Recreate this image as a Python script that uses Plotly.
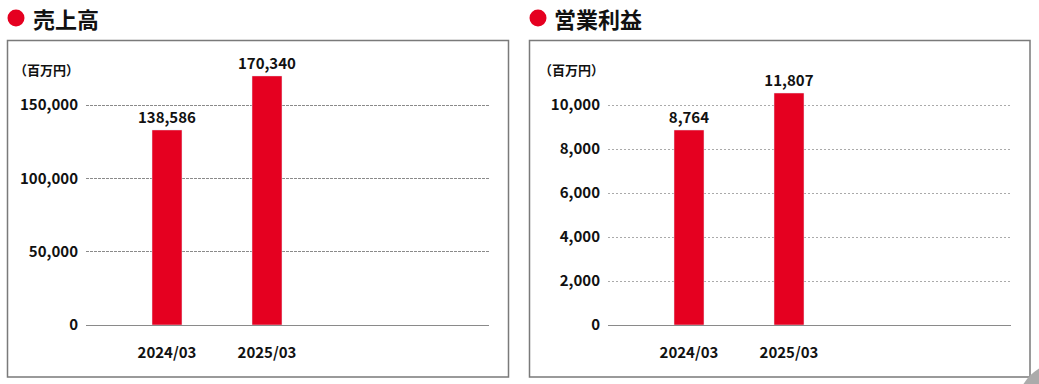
import plotly.graph_objects as go

# ---- data ----
categories = ["2024/03", "2025/03"]
sales_bar_values = [133000, 169850]          # bar heights as drawn
sales_labels = ["138,586", "170,340"]        # printed value labels
profit_bar_values = [8864, 10545]
profit_labels = ["8,764", "11,807"]
sales_ticks = [0, 50000, 100000, 150000]
profit_ticks = [0, 2000, 4000, 6000, 8000, 10000]

W, H = 1039, 384
RED = "#e50020"
FONT = "Noto Sans CJK JP"

def px(x):
    return x / W

def py(y):
    return 1 - y / H

fig = go.Figure()

for xa, ya, vals, labs in [("x", "y", sales_bar_values, sales_labels),
                           ("x2", "y2", profit_bar_values, profit_labels)]:
    fig.add_trace(go.Bar(
        x=[0, 1], y=vals, text=labs, textposition="outside",
        marker_color=RED, width=0.3, cliponaxis=False, constraintext="none",
        textfont=dict(family=FONT, size=15, color="#111", weight="bold"),
        xaxis=xa, yaxis=ya, hoverinfo="skip"))

tickfont = dict(family=FONT, size=15, color="#111", weight="bold")

def xaxis(dom, anchor):
    return dict(domain=dom, anchor=anchor, range=[-0.81, 3.22],
                tickvals=[0, 1], ticktext=categories, tickfont=tickfont,
                showgrid=False, zeroline=False, showline=True,
                linecolor="#8a8a8a", linewidth=1, ticks="",
                ticklabelstandoff=14, fixedrange=True, automargin=False)

def yaxis(dom, anchor, top, ticks, dash, gcolor):
    return dict(domain=dom, anchor=anchor, range=[0, top], tickvals=ticks,
                tickformat=",", tickfont=tickfont, showgrid=True,
                gridcolor=gcolor, griddash=dash, gridwidth=1,
                zeroline=False, showline=False, ticks="",
                ticklabelstandoff=7, fixedrange=True, automargin=False)

fig.update_layout(
    width=W, height=H, margin=dict(l=0, r=0, t=0, b=0, autoexpand=False),
    paper_bgcolor="white", plot_bgcolor="white", showlegend=False,
    font=dict(family=FONT),
    xaxis=xaxis([px(86), px(489)], "y"),
    yaxis=yaxis([py(325), py(60)], "x", 265 * 150000 / 220, sales_ticks,
                "3px,1px", "#8a8a8a"),
    xaxis2=xaxis([px(608), px(1011)], "y2"),
    yaxis2=yaxis([py(325), py(60)], "x2", 265 * 10000 / 220, profit_ticks,
                 "2px,2px", "#aaaaaa"),
)

shapes = [
    dict(type="rect", xref="paper", yref="paper", x0=px(7.5), x1=px(508.5),
         y0=py(377), y1=py(40.5), line=dict(color="#7a7a7a", width=1.5)),
    dict(type="rect", xref="paper", yref="paper", x0=px(529.5), x1=px(1030),
         y0=py(377), y1=py(40.5), line=dict(color="#7a7a7a", width=1.5)),
    dict(type="circle", xref="paper", yref="paper", x0=px(7.5), x1=px(24.5),
         y0=py(26.5), y1=py(9.5), fillcolor=RED, line=dict(width=0)),
    dict(type="circle", xref="paper", yref="paper", x0=px(529.5), x1=px(546.5),
         y0=py(26.5), y1=py(9.5), fillcolor=RED, line=dict(width=0)),
    dict(type="circle", xref="paper", yref="paper", x0=px(1016), x1=px(1114),
         y0=py(459), y1=py(361), fillcolor="#ababab", line=dict(width=0)),
]
fig.update_layout(shapes=shapes)

annotations = [
    dict(text="売上高", x=px(31), y=py(18), xanchor="left", yanchor="middle",
         font=dict(family=FONT, size=22, color="#111", weight="bold")),
    dict(text="営業利益", x=px(552), y=py(18), xanchor="left", yanchor="middle",
         font=dict(family=FONT, size=22, color="#111", weight="bold")),
    dict(text="（百万円）", x=px(12), y=py(70), xanchor="left", yanchor="middle",
         font=dict(family=FONT, size=13, color="#111", weight="bold")),
    dict(text="（百万円）", x=px(537), y=py(69), xanchor="left", yanchor="middle",
         font=dict(family=FONT, size=13, color="#111", weight="bold")),
]
for a in annotations:
    a.update(xref="paper", yref="paper", showarrow=False)
fig.update_layout(annotations=annotations)

fig.write_html("out.html")
